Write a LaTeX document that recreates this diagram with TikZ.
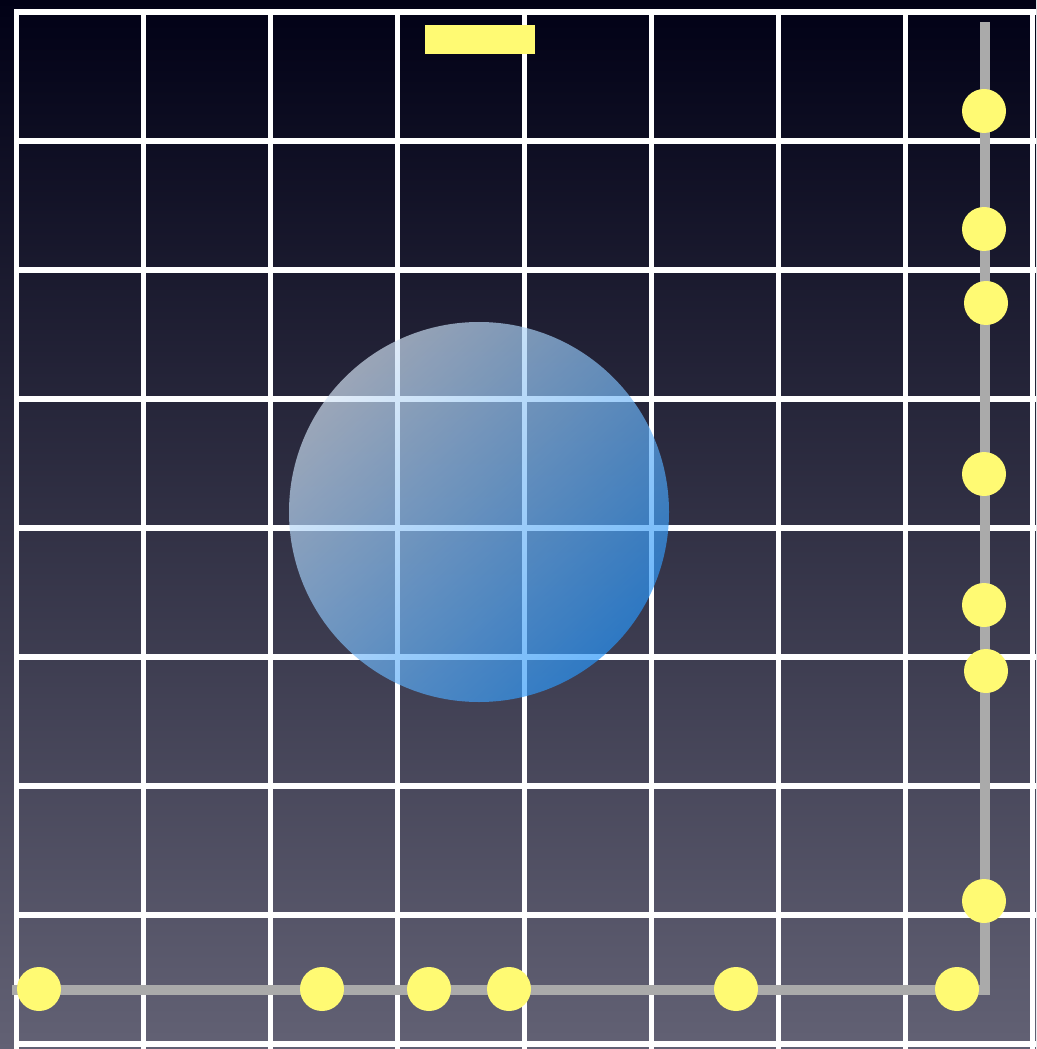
\documentclass[tikz,border=0pt]{standalone}
\usetikzlibrary{math}
\definecolor{bgtop}{RGB}{1,1,22}
\definecolor{bgbot}{RGB}{98,97,116}
\definecolor{dotyellow}{RGB}{255,250,115}
\definecolor{trackgray}{RGB}{170,170,170}
\definecolor{balllight}{RGB}{212,228,245}
\definecolor{balldark}{RGB}{40,150,250}

\begin{document}
\begin{tikzpicture}[x=0.01cm,y=-0.01cm]
\tikzmath{
\gx=16.5;%first grid column
\gy=12;%first grid row
\dx=127;
\dy=129;
\r=22;%dot radius
\px=985;%vertical track
\py=990;%horizontal track
}
%background
\shade[top color=bgtop,bottom color=bgbot] (0,0) rectangle (1036,1049);
\useasboundingbox (0,0) rectangle (1036,1049);

%grid
\foreach \i in {0,...,8}{
 \draw[white,line width=1.45pt] (\gx+\i*\dx,\gy-2.5) -- (\gx+\i*\dx,1049);
 \draw[white,line width=1.45pt] (\gx-2.5,\gy+\i*\dy) -- (1036,\gy+\i*\dy);
}

%ball
\coordinate (B) at (479,512);
\shade[fill opacity=0.68,top color=balllight,bottom color=balldark,shading angle=45] (B) circle (190);

%track
\coordinate (T1) at (12,\py);
\coordinate (T2) at (\px,\py);
\coordinate (T3) at (\px,22);
\draw[trackgray,line width=2.85pt,line join=miter] (T1) -- (T2) -- (T3);

%dots on the tracks
\foreach \x/\y in {984/111,984/229,986/303,984/474,984/605,986/671,984/901,
 39/989,322/989,429/989,509/989,736/989,957/989}{
 \fill[dotyellow] (\x,\y) circle (\r);
}

%marker
\fill[dotyellow] (425,25) rectangle (535,54);
\end{tikzpicture}
\end{document}
